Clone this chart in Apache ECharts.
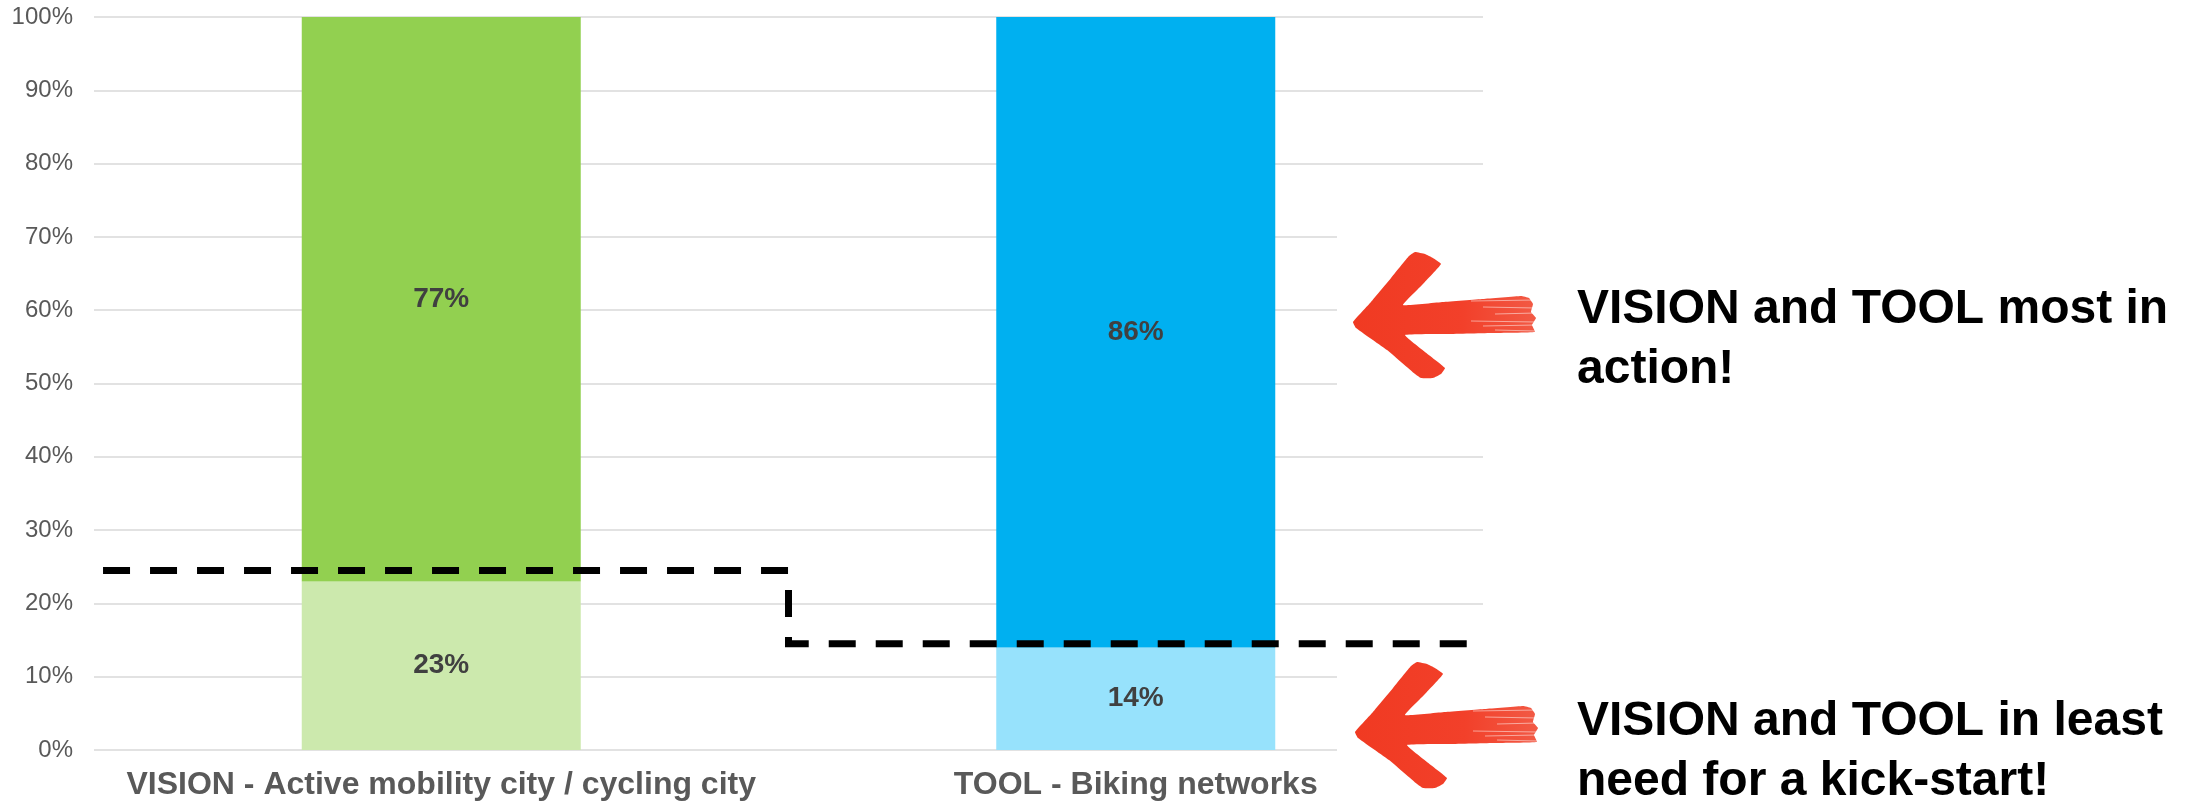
<!DOCTYPE html>
<html>
<head>
<meta charset="utf-8">
<title>Vision and tool status</title>
<script src="https://cdn.jsdelivr.net/npm/echarts@6/dist/echarts.min.js"></script>
<style>
  html, body { margin: 0; padding: 0; background: #ffffff; }
  #chart { width: 2190px; height: 805px; }
</style>
</head>
<body>
<div id="chart"></div>
<script>
// Categories along the x axis
const categories = ['VISION - Active mobility city / cycling city', 'TOOL - Biking networks'];

// Shares (percent) per category
const kickStartShare = [23, 14];   // lower, light segment
const inActionShare = [77, 86];    // upper, saturated segment

// Segment colours per category
const kickStartColors = ['#CCE9AD', '#97E2FC'];
const inActionColors = ['#92D050', '#00B0F0'];

// Stepped dashed threshold (x in category-band units 0..2, y in percent)
const thresholdX = [0.013, 1.0, 1.0, 1.978];
const thresholdY = [24.5, 24.5, 14.5, 14.5];

// Value axis ticks
const yMin = 0, yMax = 100, yStep = 10;

// Callout texts on the right
const calloutTop = ['VISION and TOOL most in', 'action!'];
const calloutBottom = ['VISION and TOOL in least', 'need for a kick-start!'];

const FONT = '"Liberation Sans", Arial, Helvetica, sans-serif';

const chart = echarts.init(document.getElementById('chart'), null, { renderer: 'canvas' });

// Brush-style arrow outline, relative to its tip
const arrowShape = [
  [0, 0], [18, -20], [38, -44], [56, -66], [62, -70], [72, -68], [80, -64], [88, -58],
  [70, -38], [50, -17], [90, -20], [130, -23], [168, -26], [176, -24], [180, -18],
  [178, -10], [183, -4], [179, 3], [182, 10], [140, 11], [95, 12], [52, 13],
  [72, 30], [92, 46], [88, 52], [80, 56], [68, 56], [62, 52], [34, 28], [3, 6]
];

function arrowAt(tipX, tipY) {
  const pts = arrowShape.map(p => [tipX + p[0], tipY + p[1]]);
  const streaks = [];
  // dry-brush streaks along the shaft tail
  const rows = [-21, -15, -8, -1, 4, 8];
  rows.forEach((dy, i) => {
    streaks.push({
      type: 'polyline',
      z: 102,
      shape: { points: [[tipX + 118 + (i % 3) * 12, tipY + dy], [tipX + 183, tipY + dy + (i % 2 ? 1 : -1)]] },
      style: { stroke: 'rgba(255,255,255,0.5)', lineWidth: 1 }
    });
  });
  return [
    {
      type: 'polygon',
      z: 101,
      shape: { points: pts, smooth: 0.1 },
      style: {
        fill: new echarts.graphic.LinearGradient(0, 0, 1, 0, [
          { offset: 0, color: '#F03A22' },
          { offset: 0.6, color: '#F2402A' },
          { offset: 1, color: '#F25A45' }
        ])
      }
    }
  ].concat(streaks);
}

function callout(lines, x, yFirst, lineGap) {
  return lines.map((t, i) => ({
    type: 'text',
    z: 103,
    x: x,
    y: yFirst + i * lineGap,
    style: {
      text: t,
      fill: '#000000',
      font: 'bold 48px ' + FONT,
      textAlign: 'left',
      textVerticalAlign: 'middle'
    }
  }));
}

const graphics = [
  // white backing behind the arrows
  { type: 'rect', z: 100, shape: { x: 1337, y: 200, width: 230, height: 220 }, style: { fill: '#ffffff' } },
  { type: 'rect', z: 100, shape: { x: 1337, y: 652, width: 230, height: 153 }, style: { fill: '#ffffff' } }
]
  .concat(arrowAt(1353, 322))
  .concat(arrowAt(1355, 732))
  .concat(callout(calloutTop, 1577, 310, 60))
  .concat(callout(calloutBottom, 1577, 722, 60));

const option = {
  backgroundColor: '#ffffff',
  animation: false,
  grid: {
    left: 94, top: 17, width: 1389, height: 733,
    containLabel: false,
    outerBoundsMode: 'none'
  },
  xAxis: [
    {
      type: 'category',
      data: categories,
      axisLine: { show: false },
      axisTick: { show: false },
      axisLabel: {
        interval: 0,
        margin: 19,
        color: '#595959',
        fontFamily: FONT,
        fontWeight: 'bold',
        fontSize: 32
      }
    },
    {
      type: 'value',
      min: 0,
      max: 2,
      show: false
    }
  ],
  yAxis: {
    type: 'value',
    min: yMin,
    max: yMax,
    interval: yStep,
    axisLine: { show: false },
    axisTick: { show: false },
    axisLabel: {
      formatter: '{value}%',
      margin: 21,
      color: '#595959',
      fontFamily: FONT,
      fontSize: 24
    },
    splitLine: { lineStyle: { color: '#D9D9D9', width: 1.5 } }
  },
  series: [
    {
      name: 'kick-start',
      type: 'bar',
      stack: 'share',
      barWidth: 279,
      data: kickStartShare.map((v, i) => ({ value: v, itemStyle: { color: kickStartColors[i] } })),
      label: {
        show: true,
        position: 'inside',
        formatter: '{c}%',
        color: '#404040',
        fontFamily: FONT,
        fontWeight: 'bold',
        fontSize: 28
      }
    },
    {
      name: 'in action',
      type: 'bar',
      stack: 'share',
      barWidth: 279,
      data: inActionShare.map((v, i) => ({ value: v, itemStyle: { color: inActionColors[i] } })),
      label: {
        show: true,
        position: 'inside',
        formatter: '{c}%',
        color: '#404040',
        fontFamily: FONT,
        fontWeight: 'bold',
        fontSize: 28
      }
    },
    {
      name: 'threshold',
      type: 'line',
      xAxisIndex: 1,
      yAxisIndex: 0,
      z: 10,
      symbol: 'none',
      silent: true,
      clip: false,
      data: thresholdX.map((x, i) => [x, thresholdY[i]]),
      lineStyle: {
        color: '#000000',
        width: 7,
        type: [27, 20],
        cap: 'butt',
        join: 'miter'
      }
    }
  ],
  graphic: graphics
};

chart.setOption(option);
</script>
</body>
</html>
